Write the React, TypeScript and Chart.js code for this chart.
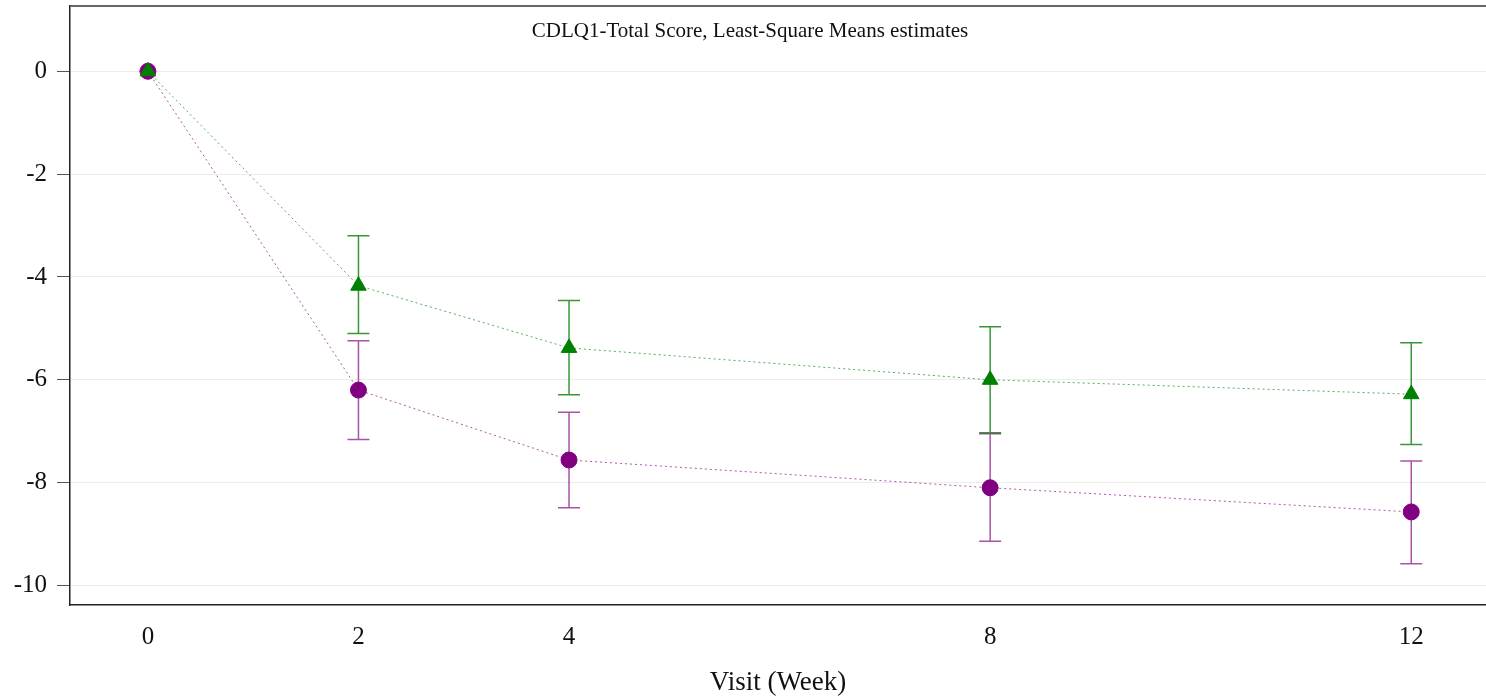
import React, { useEffect, useRef } from "react";
import { Chart, registerables } from "chart.js";

Chart.register(...registerables);

const visits = [0, 2, 4, 8, 12];
const xTickLabels = [0, 2, 4, 8, 12];
const yTickValues = [-10, -8, -6, -4, -2, 0];

const groupA = [0, -4.17, -5.38, -6.0, -6.28];
const groupAUpper = [0, -3.2, -4.46, -4.97, -5.28];
const groupALower = [0, -5.1, -6.29, -7.03, -7.26];

const groupB = [0, -6.2, -7.56, -8.1, -8.57];
const groupBUpper = [0, -5.24, -6.63, -7.05, -7.58];
const groupBLower = [0, -7.16, -8.49, -9.14, -9.58];

const chartTitle = "CDLQ1-Total Score, Least-Square Means estimates";
const xTitle = "Visit (Week)";

const FONT = '"Liberation Serif", "Times New Roman", serif';

export default function App() {
  const ref = useRef<HTMLCanvasElement | null>(null);

  useEffect(() => {
    const canvas = ref.current;
    if (!canvas) return;

    const errorBars = {
      id: "errorBars",
      beforeDatasetsDraw(chart: any) {
        const ctx = chart.ctx;
        const xs = chart.scales.x;
        const ys = chart.scales.y;
        const sets = [
          { up: groupBUpper, lo: groupBLower, color: "rgba(128,0,128,0.68)" },
          { up: groupAUpper, lo: groupALower, color: "rgba(0,120,0,0.78)" },
        ];
        ctx.save();
        sets.forEach((s) => {
          ctx.strokeStyle = s.color;
          ctx.lineWidth = 1.5;
          visits.forEach((v, i) => {
            if (i === 0) return;
            const px = xs.getPixelForValue(v);
            const pu = ys.getPixelForValue(s.up[i]);
            const pl = ys.getPixelForValue(s.lo[i]);
            ctx.beginPath();
            ctx.moveTo(px, pu);
            ctx.lineTo(px, pl);
            ctx.moveTo(px - 11, pu);
            ctx.lineTo(px + 11, pu);
            ctx.moveTo(px - 11, pl);
            ctx.lineTo(px + 11, pl);
            ctx.stroke();
          });
        });
        ctx.restore();
      },
      afterDraw(chart: any) {
        const ctx = chart.ctx;
        const area = chart.chartArea;
        ctx.save();
        ctx.strokeStyle = "#666";
        ctx.lineWidth = 2;
        ctx.beginPath();
        ctx.moveTo(area.left, area.top);
        ctx.lineTo(chart.width, area.top);
        ctx.stroke();
        ctx.fillStyle = "#111";
        ctx.font = `21px ${FONT}`;
        ctx.textAlign = "center";
        ctx.textBaseline = "middle";
        ctx.fillText(chartTitle, 750, 31);
        ctx.restore();
      },
    };

    const chart = new Chart(canvas, {
      type: "line",
      data: {
        datasets: [
          {
            label: "A",
            data: visits.map((v, i) => ({ x: v, y: groupA[i] })),
            borderColor: "rgba(0,128,0,0.65)",
            backgroundColor: "#008000",
            pointBackgroundColor: "#008000",
            pointBorderColor: "#008000",
            pointStyle: "triangle",
            pointRadius: 9,
            borderWidth: 1,
            borderDash: [2, 3],
            fill: false,
          },
          {
            label: "B",
            data: visits.map((v, i) => ({ x: v, y: groupB[i] })),
            borderColor: "rgba(128,0,128,0.65)",
            backgroundColor: "#800080",
            pointBackgroundColor: "#800080",
            pointBorderColor: "#800080",
            pointStyle: "circle",
            pointRadius: 8,
            borderWidth: 1,
            borderDash: [2, 3],
            fill: false,
          },
        ],
      },
      options: {
        animation: false,
        responsive: false,
        maintainAspectRatio: false,
        layout: { autoPadding: false, padding: { top: 6, right: 0, left: 0, bottom: 0 } },
        plugins: {
          legend: { display: false },
          tooltip: { enabled: false },
          title: { display: false },
        },
        scales: {
          x: {
            type: "linear",
            min: -0.74,
            max: 12.71,
            afterBuildTicks: (s: any) => {
              s.ticks = xTickLabels.map((v) => ({ value: v }));
            },
            afterFit: (s: any) => {
              s.height = 94;
              s.paddingLeft = 0;
              s.paddingRight = 0;
            },
            grid: { display: false, drawTicks: false },
            border: { display: true, color: "#222", width: 1.5 },
            ticks: {
              color: "#111",
              font: { family: FONT, size: 25 },
              padding: 17,
              maxRotation: 0,
              autoSkip: false,
            },
            title: {
              display: true,
              text: xTitle,
              color: "#111",
              font: { family: FONT, size: 27 },
              padding: { top: 12, bottom: 0 },
            },
          },
          y: {
            type: "linear",
            min: -10.38,
            max: 1.27,
            afterBuildTicks: (s: any) => {
              s.ticks = yTickValues.map((v) => ({ value: v }));
            },
            afterFit: (s: any) => {
              s.width = 70;
              s.paddingTop = 0;
              s.paddingBottom = 0;
            },
            grid: {
              color: "#ececec",
              tickColor: "#555",
              tickLength: 13,
              drawTicks: true,
              lineWidth: 1,
            },
            border: { display: true, color: "#222", width: 1.5 },
            ticks: {
              color: "#111",
              font: { family: FONT, size: 25 },
              padding: 10,
            },
          },
        },
      },
      plugins: [errorBars],
    } as any);

    return () => chart.destroy();
  }, []);

  return (
    <div style={{ position: "fixed", left: 0, top: 0, width: 1486, height: 699, background: "#fff" }}>
      <canvas ref={ref} width={1486} height={699} style={{ display: "block", width: 1486, height: 699 }} />
    </div>
  );
}
